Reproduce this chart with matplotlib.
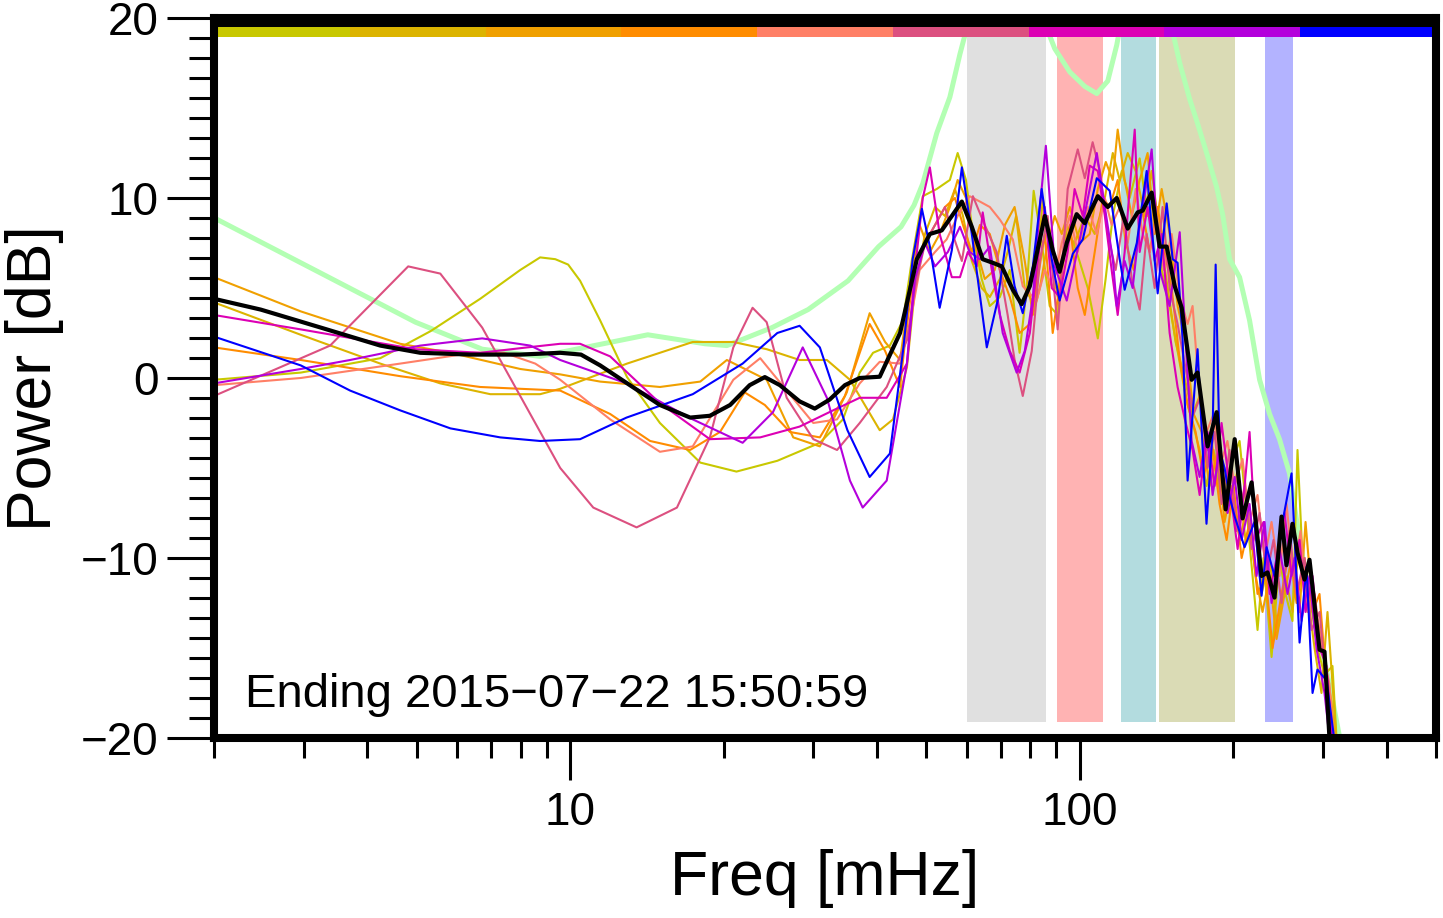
import matplotlib
matplotlib.use("Agg")
import matplotlib.pyplot as plt
from matplotlib.ticker import LogLocator, MultipleLocator, NullFormatter, FuncFormatter

plt.rcParams["font.family"] = ["Liberation Sans", "DejaVu Sans"]

# -----------------------------
# 1. Spectra (freq in mHz, power in dB)
# -----------------------------
f_yg = [2.0, 2.96, 4.24, 5.32, 6.66, 7.98, 8.73, 9.35, 9.91, 10.46, 11.45, 12.93, 15.0, 18.0, 21.2, 25.5,
        30.9, 34.3, 37.0, 39.3, 42.4, 45.0, 46.8, 49.2, 52.4, 55.6, 57.6, 59.8, 61.7, 64.2, 66.6, 69.7,
        72.9, 76.2, 78.7, 81.2, 84.2, 87.3, 90.5, 94.3, 98.6, 103.7, 108.5, 112.4, 116.1, 120.9, 125.3,
        131.1, 135.9, 140.3, 144.8, 150.1, 155.6, 161.3, 166.5, 171.9, 177.4, 183.1, 189.8, 196.8, 205.9,
        213.5, 223.3, 229.4, 237.9, 246.6, 253.4, 261.5, 267.5, 273.6, 282.4, 292.8, 302.2, 313.3, 320.5]
db_yg = [-0.1, 0.3, 1.1, 2.6, 4.4, 6.0, 6.7, 6.6, 6.3, 5.4, 3.2, 0.05, -2.5, -4.7, -5.2, -4.6,
         -3.6, -2.3, 0.3, 1.4, 1.8, 3.2, 6.5, 10.1, 10.5, 11.0, 12.5, 11.0, 8.0, 5.5, 4.0, 4.5,
         6.0, 1.4, 5.0, 10.4, 7.5, 4.0, 3.5, 8.5, 7.0, 5.0, 2.2, 5.5, 9.0, 11.5, 10.0,
         12.2, 9.0, 10.0, 6.0, 4.0, 1.5, -1.0, -2.5, -4.0, -6.0, -4.0, -7.0, -5.0, -3.5,
         -8.0, -14.0, -10.0, -15.5, -10.0, -12.0, -13.5, -4.0, -10.0, -12.0, -15.0, -16.5, -16.0, -21.0]

f_gd = [2.0, 2.96, 4.24, 5.56, 6.97, 8.73, 9.56, 12.93, 17.4, 20.9, 24.3, 28.2, 31.9, 35.4, 40.5, 43.0,
        45.8, 47.5, 49.7, 52.0, 54.4, 56.9, 59.0, 61.4, 64.2, 66.6, 69.7, 72.2, 75.0, 78.0, 81.6, 84.6,
        87.3, 90.5, 93.8, 97.7, 102.3, 107.0, 112.0, 116.1, 119.8, 124.2, 128.7, 134.1, 138.4, 143.5,
        148.8, 154.2, 160.6, 166.5, 171.9, 178.2, 183.9, 189.8, 196.8, 204.1, 211.5, 220.3, 227.4, 235.8,
        244.4, 253.4, 261.5, 270.0, 279.9, 288.9, 298.1, 306.3, 313.3, 320.5]
db_gd = [4.2, 2.4, 0.8, -0.3, -0.9, -0.9, -0.6, 0.8, 2.0, 2.0, 1.6, 1.0, 1.0, -0.1, -2.9, -2.3,
         0.6, 5.0, 8.0, 9.5, 9.0, 10.5, 9.0, 6.5, 5.0, 4.5, 5.5, 7.0, 9.0, 5.0, 4.0, 10.0,
         7.0, 4.5, 8.0, 7.5, 9.0, 8.0, 10.0, 12.5, 11.0, 12.5, 11.5, 9.0, 11.5, 8.0,
         5.0, 2.0, 0.0, -2.0, -1.0, -4.0, -2.0, -6.0, -7.5, -5.0, -9.0, -8.0, -12.0, -10.0,
         -14.0, -11.0, -13.0, -9.0, -12.0, -15.0, -17.5, -13.0, -17.0, -21.0]

f_or = [2.0, 2.96, 4.64, 5.82, 7.98, 9.56, 11.45, 15.0, 18.0, 20.3, 24.3, 27.4, 30.9, 34.9, 38.7, 41.5,
        44.4, 46.4, 48.5, 50.8, 53.1, 55.6, 57.6, 59.8, 62.2, 65.1, 68.1, 71.3, 74.5, 78.0, 80.9, 83.5,
        86.5, 89.3, 92.2, 95.6, 100.0, 104.6, 108.5, 112.5, 116.1, 118.7, 122.5, 126.5, 131.1, 135.9,
        140.3, 144.8, 150.1, 155.6, 161.4, 167.3, 173.5, 179.8, 186.4, 192.4, 198.6, 205.9, 213.5, 221.4,
        228.4, 235.8, 243.3, 252.3, 260.4, 270.0, 277.4, 285.0, 295.5, 303.6, 311.9, 319.0]
db_or = [5.6, 3.7, 1.9, 1.4, 0.5, 0.2, -0.2, -0.5, -0.2, 1.0, -0.1, -3.3, -3.8, -0.8, 3.6, 2.0,
         1.0, 5.0, 8.5, 7.0, 8.0, 9.5, 11.0, 10.0, 7.5, 5.5, 6.0, 8.5, 9.5, 6.5, 3.5, 5.0,
         7.5, 9.0, 8.0, 9.5, 7.5, 8.0, 10.5, 12.0, 11.0, 13.8, 11.0, 9.0, 11.0, 12.5,
         8.0, 10.5, 8.0, 4.0, 2.0, -2.0, -3.0, -6.0, -4.0, -8.0, -6.0, -9.0, -7.0, -11.0,
         -13.0, -11.0, -14.5, -12.0, -10.0, -13.0, -8.0, -12.0, -14.0, -16.0, -18.0, -21.0]

f_dor = [2.0, 2.96, 4.64, 6.66, 9.56, 11.98, 14.35, 17.19, 19.68, 22.0, 24.1, 27.0, 30.9, 34.6, 38.7, 41.5,
         44.4, 45.4, 47.5, 49.7, 52.0, 54.4, 56.9, 59.0, 61.4, 63.7, 66.6, 69.7, 72.9, 76.2, 79.8, 82.7,
         85.4, 88.5, 92.2, 95.6, 99.1, 102.3, 107.0, 111.0, 114.5, 118.7, 123.1, 127.6, 132.3, 137.2,
         142.2, 146.8, 151.5, 157.1, 162.8, 168.8, 175.0, 181.5, 188.1, 194.2, 200.4, 207.8, 215.4, 223.3,
         231.5, 239.0, 248.9, 258.0, 266.3, 276.1, 286.3, 295.5, 305.0, 314.7]
db_dor = [1.7, 1.0, 0.1, -0.5, -0.7, -2.0, -3.5, -4.0, -3.0, -0.8, -1.5, -3.0, -3.3, -1.0, 3.0, 1.5,
          -0.5, 2.0, 6.5, 7.5, 8.5, 9.5, 10.0, 8.5, 7.0, 8.5, 8.0, 6.0, 4.5, 2.5, 3.0, 5.5,
          8.0, 2.5, 6.0, 8.5, 5.0, 3.5, 7.0, 10.0, 9.5, 11.0, 7.5, 6.0, 9.5, 7.0,
          9.5, 7.0, 5.0, 1.0, -1.5, -3.0, -5.5, -3.5, -7.0, -9.0, -6.0, -10.0, -8.0, -12.0,
          -11.0, -15.0, -12.0, -9.5, -12.5, -10.0, -13.0, -12.0, -17.0, -21.0]

f_sal = [2.0, 2.96, 4.64, 6.45, 7.42, 8.54, 9.56, 11.98, 15.0, 17.4, 20.9, 23.6, 26.6, 30.0, 33.4, 37.0,
         40.5, 44.4, 46.4, 48.5, 52.0, 54.8, 57.6, 60.8, 63.7, 66.6, 69.7, 73.9, 77.3, 82.3, 85.4, 88.5,
         92.2, 95.6, 99.1, 103.7, 108.0, 112.0, 115.5, 119.8, 124.2, 128.8, 132.9, 137.2, 141.6, 146.1,
         151.5, 157.1, 162.8, 166.5, 171.9, 177.4, 183.1, 188.1, 194.9, 201.4, 208.7, 215.4, 223.3, 230.5,
         237.9, 246.6, 254.6, 262.7, 271.2, 279.9, 288.9, 298.1, 309.1, 317.5]
db_sal = [-0.4, 0.0, 0.8, 1.4, 1.4, 0.8, -0.1, -2.3, -4.1, -3.8, -0.1, 1.1, -0.7, -2.5, -2.3, -0.3,
          0.9, 0.8, 3.0, 6.0, 7.0, 7.7, 9.0, 10.1, 9.8, 9.5, 8.8, 7.7, 5.1, 4.3, 6.0, 5.0,
          7.5, 9.0, 7.0, 9.5, 8.0, 10.0, 8.5, 9.5, 7.5, 10.5, 8.0, 7.0, 9.0, 6.0,
          8.0, 4.5, 3.0, 4.0, -1.0, -3.0, -2.0, -5.0, -3.5, -6.0, -4.5, -8.0, -6.5, -10.0,
          -8.0, -11.0, -7.0, -11.0, -8.5, -13.0, -12.0, -15.0, -17.0, -21.0]

f_pk = [2.0, 3.38, 4.81, 5.56, 6.72, 7.98, 9.56, 11.1, 13.5, 16.2, 18.8, 20.9, 22.8, 24.3, 26.6, 30.0,
        33.4, 37.0, 41.8, 45.8, 47.5, 49.7, 52.0, 54.4, 56.3, 58.7, 61.7, 65.1, 68.7, 72.2, 74.5, 77.3,
        80.5, 83.5, 86.5, 90.5, 94.7, 99.1, 102.3, 106.0, 109.5, 113.5, 117.6, 122.0, 126.5, 131.1,
        135.3, 140.3, 145.4, 150.1, 155.6, 161.4, 167.3, 172.7, 178.2, 183.9, 189.8, 196.8, 203.1, 210.6,
        217.4, 225.4, 232.6, 240.0, 248.9, 258.0, 266.3, 276.1, 285.0, 295.5, 305.0, 316.1]
db_pk = [-1.0, 1.8, 6.2, 5.8, 2.8, -1.0, -5.0, -7.2, -8.3, -7.2, -3.3, 1.7, 3.9, 3.1, -1.1, -3.4,
         -4.0, -2.5, -0.5, 2.1, 5.0, 7.5, 8.5, 9.5, 8.0, 6.5, 10.1, 8.5, 7.0, 3.5, 1.0, -1.0,
         1.5, 6.5, 9.0, 2.7, 10.5, 12.7, 11.1, 13.1, 11.5, 8.0, 6.0, 9.0, 5.5, 3.8,
         8.0, 5.0, 9.5, 5.0, 3.0, 0.5, -2.0, -1.0, -5.0, -3.0, -7.0, -4.0, -8.5, -6.0,
         -9.5, -7.5, -11.0, -9.0, -12.5, -8.5, -12.0, -10.0, -14.0, -13.0, -17.0, -21.0]

f_mg = [2.0, 2.96, 4.97, 6.66, 8.24, 9.56, 10.46, 11.98, 15.0, 18.8, 23.6, 28.2, 32.8, 37.0, 41.8, 45.8,
        47.5, 49.2, 50.8, 53.1, 56.1, 58.2, 60.3, 62.8, 64.5, 67.2, 69.7, 72.9, 76.2, 79.8, 82.7, 85.4,
        88.1, 91.3, 94.7, 97.7, 101.4, 104.6, 108.5, 112.0, 115.5, 118.7, 122.5, 125.3, 128.2, 131.1,
        135.9, 140.3, 144.8, 150.1, 155.6, 161.4, 166.5, 171.9, 178.2, 183.9, 189.8, 196.8, 204.1, 210.6,
        215.4, 221.4, 229.4, 235.8, 243.3, 252.3, 260.4, 270.0, 277.4, 286.3, 295.5, 305.0, 314.7]
db_mg = [3.5, 2.7, 1.6, 1.4, 1.7, 1.9, 1.9, 1.2, -1.4, -3.4, -3.3, -2.7, -1.8, -1.1, -1.1, 0.8,
         6.0, 10.0, 11.7, 8.0, 5.6, 5.6, 7.0, 6.2, 9.2, 6.0, 3.5, 1.5, 0.3, 2.5, 6.5, 9.5,
         5.0, 4.5, 7.0, 10.5, 9.0, 11.8, 11.5, 9.0, 6.0, 3.5, 7.0, 10.5, 13.8, 7.0,
         9.5, 6.5, 8.0, 2.5, -0.5, -2.5, -4.0, -6.5, -3.0, -6.0, -2.5, -6.0, -9.5, -6.0,
         -3.0, -9.0, -8.0, -12.0, -10.0, -7.5, -11.0, -9.0, -13.0, -11.0, -15.0, -16.0, -21.0]

f_pu = [2.0, 2.96, 3.70, 5.08, 6.72, 8.35, 9.56, 12.9, 17.4, 21.8, 25.0, 28.6, 31.9, 35.4, 37.5, 41.8,
        45.8, 47.5, 49.7, 52.0, 55.1, 58.2, 60.8, 63.7, 66.6, 70.6, 75.2, 78.0, 80.9, 83.5, 85.8, 89.3,
        94.3, 100.0, 104.6, 108.0, 112.0, 116.1, 118.2, 122.5, 127.0, 131.1, 134.7, 138.4, 143.5, 150.1,
        157.1, 161.4, 165.8, 171.9, 177.4, 182.3, 188.1, 195.0, 201.4, 207.8, 215.4, 222.3, 230.5, 237.9,
        246.6, 255.7, 264.0, 272.4, 282.4, 291.4, 302.2, 311.9]
db_pu = [-0.3, 0.5, 1.0, 1.8, 2.2, 1.8, 1.0, -0.3, -2.3, -3.6, -1.9, 1.7, -1.1, -5.7, -7.2, -5.7,
         0.8, 5.5, 7.5, 6.2, 7.0, 8.4, 7.0, 6.6, 7.3, 2.5, 0.3, 1.5, 4.5, 9.5, 12.9, 6.2,
         4.3, 7.7, 10.5, 12.5, 9.5, 6.6, 4.0, 6.5, 5.0, 8.5, 10.5, 12.7, 6.0, 4.0,
         8.1, 2.0, -3.5, -5.5, -3.0, -6.5, -4.0, -7.5, -5.5, -9.0, -7.0, -11.0, -8.0, -12.5,
         -9.5, -12.0, -10.0, -13.5, -11.0, -15.0, -17.5, -21.0]

f_bl = [2.0, 2.96, 3.70, 4.64, 5.82, 7.29, 8.73, 10.46, 12.9, 17.4, 21.8, 25.5, 28.2, 30.9, 35.0, 38.7,
        42.4, 45.0, 47.0, 49.0, 50.8, 53.1, 56.1, 58.7, 61.4, 65.7, 69.0, 71.9, 74.5, 77.3, 80.9, 84.2,
        88.1, 91.3, 96.9, 101.4, 108.0, 114.5, 119.8, 122.5, 129.4, 135.3, 142.2, 148.1, 152.2, 155.6,
        159.2, 162.8, 170.3, 177.3, 182.3, 184.8, 188.1, 192.4, 196.8, 201.4, 210.6, 220.3, 227.4, 232.6,
        241.1, 250.0, 260.4, 270.0, 278.6, 286.3, 292.7, 305.0, 319.0]
db_bl = [2.3, 0.7, -0.7, -1.8, -2.8, -3.3, -3.5, -3.4, -2.2, -0.9, 0.8, 2.5, 2.9, 1.7, -2.9, -5.5,
         -4.2, 1.5, 6.6, 9.4, 7.3, 3.9, 7.1, 11.7, 8.0, 1.7, 4.3, 7.9, 5.1, 3.6, 6.2, 10.5,
         6.6, 4.3, 6.9, 7.7, 11.1, 10.4, 6.6, 4.9, 7.5, 11.5, 4.7, 9.7, 6.6, 6.4,
         2.1, -5.7, 1.6, -8.1, -3.0, 6.3, -4.0, -5.0, -6.6, -7.7, -9.4, -8.0, -12.1, -9.4,
         -11.0, -8.0, -5.3, -14.7, -10.5, -17.5, -16.2, -16.8, -21.0]

# mean spectrum (black)
f_mean = [2.0, 2.47, 3.24, 4.24, 5.08, 6.37, 7.98, 9.56, 10.5, 11.45, 13.1, 15.0, 17.2, 18.8, 20.6, 22.5,
          24.1, 25.8, 28.2, 30.2, 32.3, 34.6, 37.0, 40.5, 44.4, 47.9, 50.8, 53.6, 56.1, 58.7, 61.4, 64.5,
          67.5, 70.3, 73.9, 76.9, 79.8, 85.4, 88.5, 91.3, 94.3, 98.6, 102.3, 108.5, 113.5, 118.2, 124.2,
          129.9, 132.9, 138.4, 143.5, 148.1, 153.6, 158.5, 165.8, 170.3, 178.2, 185.6, 193.3, 201.4, 208.7,
          217.4, 227.4, 233.6, 241.1, 248.9, 254.5, 261.5, 267.5, 276.1, 282.4, 295.5, 302.2, 310.5]
db_mean = [4.4, 3.8, 2.8, 1.8, 1.4, 1.3, 1.3, 1.4, 1.3, 0.7, -0.4, -1.5, -2.2, -2.1, -1.5, -0.4,
           0.05, -0.4, -1.3, -1.7, -1.2, -0.4, 0.0, 0.07, 2.5, 6.6, 8.0, 8.2, 9.0, 9.8, 8.4, 6.6,
           6.4, 6.2, 4.9, 4.1, 5.1, 9.0, 7.1, 5.9, 7.5, 9.1, 8.6, 10.1, 9.5, 10.0, 8.3,
           9.2, 9.3, 10.3, 7.3, 7.3, 5.1, 3.9, -0.1, 0.3, -3.8, -1.9, -7.3, -3.4, -7.8,
           -5.8, -11.0, -10.8, -12.2, -7.7, -10.4, -8.1, -9.7, -11.2, -10.1, -15.1, -15.2, -21.0]

# reference curve (light green)
f_ref = [2.0, 4.97, 6.72, 8.73, 10.7, 14.2, 18.4, 20.3, 24.9, 29.3, 35.1, 40.3, 44.6, 47.3, 49.2, 52.4,
         55.6, 58.2, 61.4, 66.6, 74.5, 81.6, 84.6, 89.3, 95.6, 102.3, 108.0, 113.5, 118.2, 120.9, 131.1,
         143.5, 150.1, 157.1, 164.3, 169.6, 177.4, 185.6, 190.7, 196.8, 205.9, 215.4, 225.4, 235.8, 246.6,
         258.0, 270.0, 282.4, 295.5, 309.1, 326.3]
db_ref = [8.9, 3.1, 1.6, 1.2, 1.7, 2.4, 1.9, 1.8, 2.8, 3.8, 5.4, 7.3, 8.4, 9.6, 10.8, 13.6,
          15.6, 18.0, 20.5, 23.5, 24.5, 22.0, 20.0, 18.3, 17.0, 16.2, 15.8, 16.5, 18.5, 20.0, 22.5,
          21.5, 20.0, 17.5, 15.5, 14.3, 12.5, 10.6, 9.1, 6.6, 5.6, 3.2, -0.1, -2.0, -3.4,
          -5.3, -9.0, -12.0, -14.5, -17.0, -20.5]

series_f = [f_yg, f_gd, f_or, f_dor, f_sal, f_pk, f_mg, f_pu, f_bl]
series_db = [db_yg, db_gd, db_or, db_dor, db_sal, db_pk, db_mg, db_pu, db_bl]
series_colors = ["#c8c800", "#dcb400", "#f0a000", "#ff8c00", "#ff7f66",
                 "#dc5080", "#dc00b4", "#b400dc", "#0000ff"]

# shaded frequency bands (mHz)
band_lo = [60.0, 90.1, 120.3, 142.8, 230.6]
band_hi = [85.8, 111.0, 141.0, 201.4, 261.6]
band_colors = ["#e0e0e0", "#ffb3b3", "#b3dcdf", "#dadbb5", "#b3b3ff"]

label_text = "Ending 2015\u221207\u221222 15:50:59"

# -----------------------------
# 2. Figure
# -----------------------------
fig = plt.figure(figsize=(14.43, 9.18), dpi=100)
ax = fig.add_axes([0.1483, 0.1961, 0.8468, 0.7843])
ax.set_xscale("log")
ax.set_xlim(2, 500)
ax.set_ylim(-20, 20)

for lo, hi, c in zip(band_lo, band_hi, band_colors):
    ax.fill_between([lo, hi], -19.1, 18.95, color=c, lw=0, zorder=1)

ax.plot(f_ref, db_ref, color="#b3ffb3", lw=3.6, zorder=2, solid_capstyle="round")

for f, db, c in zip(series_f, series_db, series_colors):
    ax.plot(f, db, color=c, lw=1.5, zorder=3)

ax.plot(f_mean, db_mean, color="black", lw=3.0, zorder=4)

# colour key strip along the top
n = len(series_colors)
for i, c in enumerate(series_colors):
    ax.axhspan(18.95, 19.5, xmin=i / n, xmax=(i + 1) / n, color=c, lw=0, zorder=5)
ax.axhspan(19.5, 20.0, color="black", lw=0, zorder=5)

ax.text(0.0253, 0.043, label_text, transform=ax.transAxes, fontsize=34,
        ha="left", va="baseline", zorder=6)

# -----------------------------
# 3. Axes styling
# -----------------------------
for s in ax.spines.values():
    s.set_linewidth(5.8)
    s.set_zorder(7)

ax.xaxis.set_major_locator(LogLocator(base=10))
ax.xaxis.set_minor_locator(LogLocator(base=10, subs=range(2, 10)))
ax.xaxis.set_major_formatter(FuncFormatter(lambda v, p: "%d" % round(v)))
ax.xaxis.set_minor_formatter(NullFormatter())
ax.yaxis.set_major_locator(MultipleLocator(10))
ax.yaxis.set_minor_locator(MultipleLocator(10 / 9))

ax.tick_params(axis="x", which="major", direction="out", length=30, width=2.2,
               labelsize=33, pad=8, top=False)
ax.tick_params(axis="x", which="minor", direction="out", length=14.5, width=2.2, top=False)
ax.tick_params(axis="y", which="major", direction="out", length=34, width=2.2,
               labelsize=33, pad=6, right=False)
ax.tick_params(axis="y", which="minor", direction="out", length=18, width=2.2, right=False)

ax.set_xlabel("Freq [mHz]", fontsize=45, labelpad=10)
ax.set_ylabel("Power [dB]", fontsize=45, labelpad=12)

fig.savefig("out.png", dpi=100)
